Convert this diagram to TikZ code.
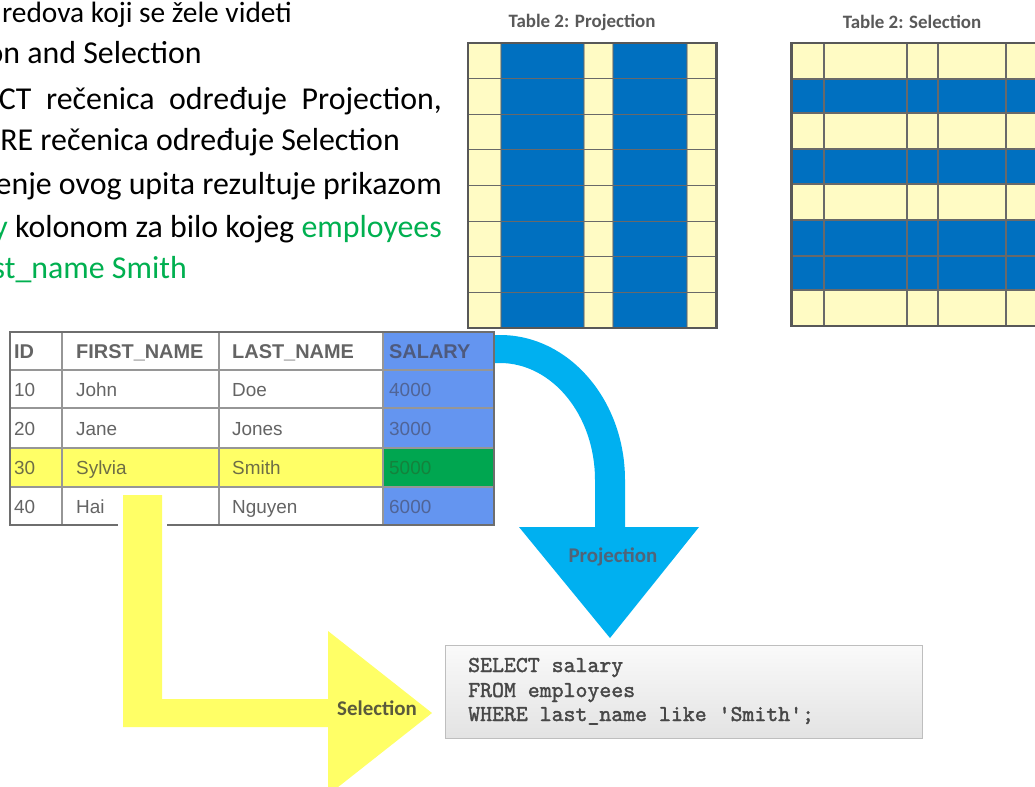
\documentclass[tikz,border=0pt]{standalone}
\usepackage{fontspec}
\setmainfont{Carlito}
\newfontfamily\arialf{Liberation Sans}
\newfontfamily\sqlf[FakeBold=1.6]{lmmono10-regular.otf}
\definecolor{txtgreen}{RGB}{0,176,80}
\definecolor{cellyel}{RGB}{255,251,196}
\definecolor{cellblue}{RGB}{0,112,192}
\definecolor{gridgray}{RGB}{105,105,105}
\definecolor{frame}{RGB}{88,88,88}
\definecolor{salblue}{RGB}{100,149,240}
\definecolor{salgreen}{RGB}{0,166,80}
\definecolor{rowyel}{RGB}{255,255,102}
\definecolor{arrowyel}{RGB}{255,255,102}
\definecolor{arrowblue}{RGB}{0,176,240}
\definecolor{tabtext}{RGB}{100,100,100}
\definecolor{tabline}{RGB}{150,150,150}
\definecolor{tabframe}{RGB}{110,110,110}
\definecolor{titlegray}{RGB}{89,89,89}
\tikzset{
  bodytxt/.style={inner sep=0pt, anchor=base east, font=\fontsize{32}{38}\selectfont},
  ttl/.style={inner sep=0pt, font=\bfseries\fontsize{19}{22}\selectfont, text=titlegray},
  cellhead/.style={inner sep=0pt, anchor=base west, font=\arialf\bfseries\fontsize{20}{23}\selectfont, text=tabtext},
  cellbody/.style={inner sep=0pt, anchor=base west, font=\arialf\fontsize{19}{22}\selectfont, text=tabtext},
  sqltxt/.style={inner sep=0pt, anchor=base west, font=\sqlf\bfseries\fontsize{22.8}{26}\selectfont, text=black!72},
  arrowlbl/.style={inner sep=0pt, font=\bfseries\fontsize{21}{24}\selectfont},
  gridline/.style={draw=gridgray, line width=1.1pt},
  tableline/.style={draw=tabline, line width=1.4pt},
}
\begin{document}
\begin{tikzpicture}[x=1bp,y=-1bp]
\path[use as bounding box] (0,0) rectangle (1035,787);
\clip (0,0) rectangle (1035,787);
\fill[white] (0,0) rectangle (1035,787);

% ---------- left text ----------
\node[bodytxt] (l1) at (292,23) {\fontsize{29.5}{34}\selectfont redova koji se žele videti};
\node[bodytxt] (l2) at (202,64) {on and Selection};
\node[bodytxt] (l3) at (442,109) {\makebox[443bp][s]{CT rečenica određuje Projection,}};
\node[bodytxt] (l4) at (400,150) {RE rečenica određuje Selection};
\node[bodytxt] (l5) at (442,194) {enje ovog upita rezultuje prikazom};
\node[bodytxt] (l6) at (442,237) {\textcolor{txtgreen}{y} kolonom za bilo kojeg \textcolor{txtgreen}{employees}};
\node[bodytxt, text=txtgreen] (l7) at (187,278) {st\_name Smith};

% ---------- Table 2: Projection ----------
\node[ttl] (tproj) at (582,22) {Table 2: Projection};
\foreach \xa/\xb/\c in {468/501/cellyel, 501/584/cellblue, 584/613/cellyel, 613/687/cellblue, 687/716/cellyel}
  \fill[\c] (\xa,43) rectangle (\xb,328);
\foreach \yy in {78.6,114.3,149.9,185.5,221.1,256.8,292.4}
  \draw[gridline] (468,\yy) -- (716,\yy);
\foreach \xx in {501,584,613,687}
  \draw[gridline, opacity=0.5] (\xx,43) -- (\xx,328);
\draw[draw=frame, line width=3pt] (468,43) rectangle (716,328);

% ---------- Table 2: Selection ----------
\node[ttl] (tsel) at (912,22) {Table 2: Selection};
\foreach \ya/\yb/\c in {43/79/cellyel, 79/113/cellblue, 113/149/cellyel, 149/184/cellblue, 184/220/cellyel, 220/256/cellblue, 256/290/cellblue, 290/326/cellyel}
  \fill[\c] (791,\ya) rectangle (1045,\yb);
\foreach \yy in {79,113,149,184,220,256,290}
  \draw[gridline] (791,\yy) -- (1045,\yy);
\foreach \xx in {824,907,938,1006}
  \draw[gridline] (\xx,43) -- (\xx,326);
\draw[draw=frame, line width=3pt] (1045,43) -- (791,43) -- (791,326) -- (1045,326);

% ---------- blue projection arrow ----------
\fill[arrowblue] (492,335) -- (500,335)
  .. controls (569,335) and (625,400) .. (625,480)
  -- (625,527) -- (699,527) -- (610,638) -- (519,527) -- (595,527) -- (595,480)
  .. controls (595,415) and (552,363) .. (500,363)
  -- (492,363) -- cycle;
\node[arrowlbl, text={rgb,255:red,80;green,100;blue,120}] (lproj) at (613,557) {Projection};

% ---------- employees table ----------
\fill[salblue] (383,332) rectangle (494,525);
\fill[rowyel] (10,448) rectangle (383,487);
\fill[salgreen] (383,448) rectangle (494,487);
\foreach \yy in {370,408,448,487}
  \draw[tableline] (10,\yy) -- (494,\yy);
\foreach \xx in {62,219,383}
  \draw[tableline] (\xx,332) -- (\xx,525);
\draw[draw=tabframe, line width=2.4pt] (10,332) rectangle (494,525);

\node[cellhead] (hid) at (14,358) {ID};
\node[cellhead] (hfn) at (76,358) {FIRST\_NAME};
\node[cellhead] (hln) at (232,358) {LAST\_NAME};
\node[cellhead, text={rgb,255:red,78;green,90;blue,125}] (hsal) at (389,358) {SALARY};

\node[cellbody] (a1) at (14,396) {10};
\node[cellbody] (a2) at (76,396) {John};
\node[cellbody] (a3) at (232,396) {Doe};
\node[cellbody, text={rgb,255:red,80;green,100;blue,150}] (a4) at (389,396) {4000};

\node[cellbody] (b1) at (14,435) {20};
\node[cellbody] (b2) at (76,435) {Jane};
\node[cellbody] (b3) at (232,435) {Jones};
\node[cellbody, text={rgb,255:red,80;green,100;blue,150}] (b4) at (389,435) {3000};

\node[cellbody, text={rgb,255:red,110;green,110;blue,70}] (c1) at (14,474) {30};
\node[cellbody, text={rgb,255:red,110;green,110;blue,70}] (c2) at (76,474) {Sylvia};
\node[cellbody, text={rgb,255:red,110;green,110;blue,70}] (c3) at (232,474) {Smith};
\node[cellbody, text={rgb,255:red,20;green,130;blue,60}] (c4) at (389,474) {5000};

\node[cellbody] (d1) at (14,513) {40};
\node[cellbody] (d2) at (76,513) {Hai};
\node[cellbody] (d3) at (232,513) {Nguyen};
\node[cellbody, text={rgb,255:red,80;green,100;blue,150}] (d4) at (389,513) {6000};

% ---------- yellow selection arrow ----------
\fill[arrowyel, preaction={draw=white, line width=10pt}]
  (123,495) -- (162,495) -- (162,699) -- (328,699) -- (328,631) -- (432,713)
  -- (328,795) -- (328,727) -- (123,727) -- cycle;
\node[arrowlbl, text={rgb,255:red,90;green,90;blue,60}] (lsel) at (377,708) {Selection};

% ---------- SQL box ----------
\node[draw={rgb,255:red,190;green,190;blue,190}, line width=1pt, top color=gray!4, bottom color=gray!22,
      minimum width=477bp, minimum height=93bp, inner sep=0pt] (sql) at (683.5,691.5) {};
\node[sqltxt] (q1) at (468,672) {SELECT salary};
\node[sqltxt] (q2) at (468,697) {FROM employees};
\node[sqltxt] (q3) at (468,721) {WHERE last\_name like 'Smith';};
\end{tikzpicture}
\end{document}
